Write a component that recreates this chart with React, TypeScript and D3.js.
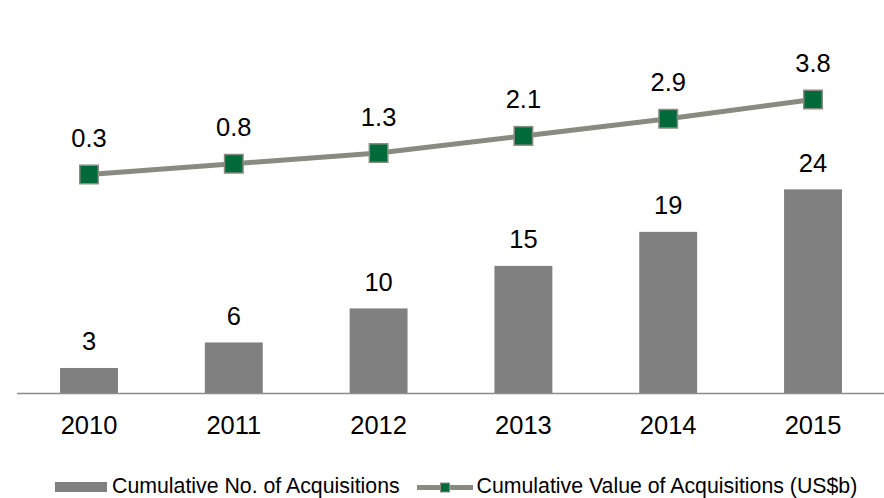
import React from "react";
import * as d3 from "d3";

const years = ["2010", "2011", "2012", "2013", "2014", "2015"];
const acquisitions = [3, 6, 10, 15, 19, 24];
const values = [0.3, 0.8, 1.3, 2.1, 2.9, 3.8];
const valueLabels = ["0.3", "0.8", "1.3", "2.1", "2.9", "3.8"];

const W = 884;
const H = 498;
const FONT = "Arial, 'Liberation Sans', sans-serif";

const App = () => {
  const x = d3
    .scaleBand()
    .domain(years)
    .range([16.6, 885.4])
    .paddingInner(0.6)
    .paddingOuter(0.3);

  // left axis: counts
  const y = d3.scaleLinear().domain([0, 30]).range([393.5, 138.3]);
  // secondary axis: value in US$b
  const y2 = d3.scaleLinear().domain([0, 4]).range([180.9, 95.2]);

  const cx = (d) => (x(d) ?? 0) + x.bandwidth() / 2;

  const lineGen = d3
    .line()
    .x((d, i) => cx(years[i]))
    .y((d) => y2(d));

  const m = 18.5;

  return (
    <svg
      width={W}
      height={H}
      style={{ position: "absolute", left: 0, top: 0, background: "#fff" }}
      fontFamily={FONT}
    >
      {/* bars */}
      {years.map((yr, i) => (
        <rect
          key={"b" + yr}
          x={x(yr)}
          y={y(acquisitions[i])}
          width={x.bandwidth()}
          height={y(0) - y(acquisitions[i])}
          fill="#808080"
        />
      ))}
      {years.map((yr, i) => (
        <text
          key={"bl" + yr}
          x={cx(yr)}
          y={y(acquisitions[i]) - 17.6}
          textAnchor="middle"
          fontSize={25.5}
          fill="#000"
        >
          {acquisitions[i]}
        </text>
      ))}

      {/* x axis */}
      <line x1={17} x2={884} y1={y(0)} y2={y(0)} stroke="#8c8c8c" strokeWidth={1.5} />
      {years.map((yr) => (
        <text key={"t" + yr} x={cx(yr)} y={434} textAnchor="middle" fontSize={25.5} fill="#000">
          {yr}
        </text>
      ))}

      {/* line series */}
      <path d={lineGen(values)} fill="none" stroke="#8a8b80" strokeWidth={5} />
      {years.map((yr, i) => (
        <rect
          key={"m" + yr}
          x={cx(yr) - m / 2}
          y={y2(values[i]) - m / 2}
          width={m}
          height={m}
          fill="#006a3a"
          stroke="#8a8b80"
          strokeWidth={1.5}
        />
      ))}
      {years.map((yr, i) => (
        <text
          key={"ml" + yr}
          x={cx(yr)}
          y={y2(values[i]) - 27.5}
          textAnchor="middle"
          fontSize={25.5}
          fill="#000"
        >
          {valueLabels[i]}
        </text>
      ))}

      {/* legend */}
      <rect x={55} y={482} width={52} height={10} fill="#808080" />
      <text x={112} y={493} fontSize={21.3} fill="#000">
        Cumulative No. of Acquisitions
      </text>
      <line x1={417} x2={473} y1={487.5} y2={487.5} stroke="#8a8b80" strokeWidth={5} />
      <rect x={440.5} y={483} width={9} height={9} fill="#006a3a" stroke="#8a8b80" strokeWidth={1} />
      <text x={476.5} y={493} fontSize={21.3} fill="#000">
        Cumulative Value of Acquisitions (US$b)
      </text>
    </svg>
  );
};

export default App;
